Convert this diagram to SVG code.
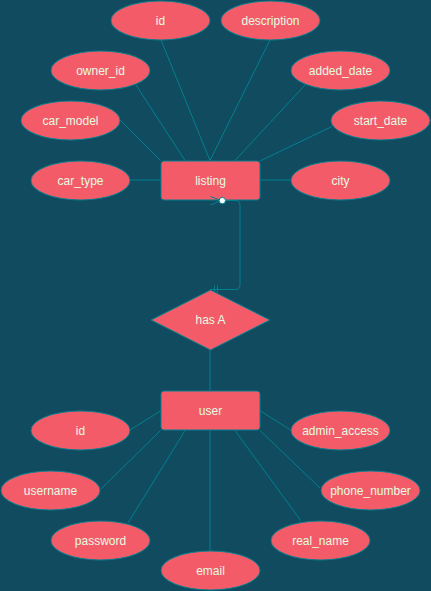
<svg xmlns="http://www.w3.org/2000/svg" width="431" height="591" viewBox="0 0 431 591">
<style>
.bg{fill:#114B5F}
.attr ellipse,.ent rect,.rel polygon{fill:#F45B69;stroke:#028090;stroke-width:1}
text{font-family:"Liberation Sans",Arial,sans-serif;font-size:12px;fill:#E4FDE1;text-anchor:middle;dominant-baseline:central}
.edges line,.edges path{stroke:#028090;stroke-width:1;fill:none}
</style>
<rect class="bg" x="0" y="0" width="431" height="591"/>
<g class="edges" id="connectors">
<line x1="161" y1="40" x2="210" y2="160.5"/>
<line x1="270" y1="40" x2="210" y2="160.5"/>
<line x1="136" y1="85" x2="185" y2="160.5"/>
<line x1="305" y1="85" x2="235" y2="160.5"/>
<line x1="120.7" y1="120.7" x2="160.5" y2="160.5"/>
<line x1="331.7" y1="126.7" x2="260" y2="161"/>
<line x1="130" y1="180" x2="160.5" y2="180"/>
<line x1="260" y1="180" x2="290.7" y2="180"/>
<path d="M222 200.5 L235 200.5 Q240 200.5 240 205.5 L240 284.5 Q240 289.5 235 289.5 L210 289.5"/>
<line x1="214.5" y1="285.5" x2="214.5" y2="293"/>
<line x1="217.5" y1="285.5" x2="217.5" y2="293"/>
<line x1="210" y1="350" x2="210" y2="390.5"/>
<line x1="130" y1="430" x2="160.5" y2="411"/>
<line x1="260.5" y1="411" x2="290.7" y2="430"/>
<line x1="101" y1="489" x2="160.5" y2="430.5"/>
<line x1="260" y1="430.5" x2="320" y2="488"/>
<line x1="128" y1="523" x2="185" y2="430.5"/>
<line x1="301" y1="521" x2="235" y2="430.5"/>
<line x1="210" y1="430.5" x2="210" y2="551"/>
</g>
<g class="attr" id="l_id"><ellipse cx="160.5" cy="20.5" rx="49.5" ry="19.5"/><text x="160.5" y="20.5">id</text></g>
<g class="attr" id="l_description"><ellipse cx="270.5" cy="20.5" rx="49.5" ry="19.5"/><text x="270.5" y="20.5">description</text></g>
<g class="attr" id="l_owner_id"><ellipse cx="100.5" cy="70.5" rx="49.5" ry="19.5"/><text x="100.5" y="70.5">owner_id</text></g>
<g class="attr" id="l_added_date"><ellipse cx="340.5" cy="70.5" rx="49.5" ry="19.5"/><text x="340.5" y="70.5">added_date</text></g>
<g class="attr" id="l_car_model"><ellipse cx="70.5" cy="120.5" rx="49.5" ry="19.5"/><text x="70.5" y="120.5">car_model</text></g>
<g class="attr" id="l_start_date"><ellipse cx="380.5" cy="120.5" rx="49.5" ry="19.5"/><text x="380.5" y="120.5">start_date</text></g>
<g class="attr" id="l_car_type"><ellipse cx="80.5" cy="180.5" rx="49.5" ry="19.5"/><text x="80.5" y="180.5">car_type</text></g>
<g class="attr" id="l_city"><ellipse cx="340.5" cy="180.5" rx="49.5" ry="19.5"/><text x="340.5" y="180.5">city</text></g>
<g class="ent" id="listing"><rect x="161" y="161" width="99" height="39" rx="3"/><text x="210.5" y="180.5">listing</text></g>
<g class="rel" id="hasA"><polygon points="210.5,290 270,320 210.5,350 151,320"/><text x="210.5" y="320">has A</text></g>
<g class="ent" id="user"><rect x="161" y="391" width="99" height="39" rx="3"/><text x="210.5" y="410.5">user</text></g>
<g class="attr" id="u_id"><ellipse cx="80.5" cy="430.5" rx="49.5" ry="19.5"/><text x="80.5" y="430.5">id</text></g>
<g class="attr" id="u_admin_access"><ellipse cx="340.5" cy="430.5" rx="49.5" ry="19.5"/><text x="340.5" y="430.5">admin_access</text></g>
<g class="attr" id="u_username"><ellipse cx="50.5" cy="490.5" rx="49.5" ry="19.5"/><text x="50.5" y="490.5">username</text></g>
<g class="attr" id="u_phone_number"><ellipse cx="370.5" cy="490.5" rx="49.5" ry="19.5"/><text x="370.5" y="490.5">phone_number</text></g>
<g class="attr" id="u_password"><ellipse cx="100.5" cy="540.5" rx="49.5" ry="19.5"/><text x="100.5" y="540.5">password</text></g>
<g class="attr" id="u_real_name"><ellipse cx="320.5" cy="540.5" rx="49.5" ry="19.5"/><text x="320.5" y="540.5">real_name</text></g>
<g class="attr" id="u_email"><ellipse cx="210.5" cy="570.5" rx="49.5" ry="19.5"/><text x="210.5" y="570.5">email</text></g>
<g class="edges" id="connector-markers">
<line x1="221" y1="200.5" x2="210.5" y2="196.5"/>
<line x1="221" y1="200.5" x2="210.5" y2="205"/>
<circle cx="222.3" cy="200.6" r="3.2" fill="#FFFFFF" stroke="#028090" stroke-width="1"/>
</g>
</svg>
